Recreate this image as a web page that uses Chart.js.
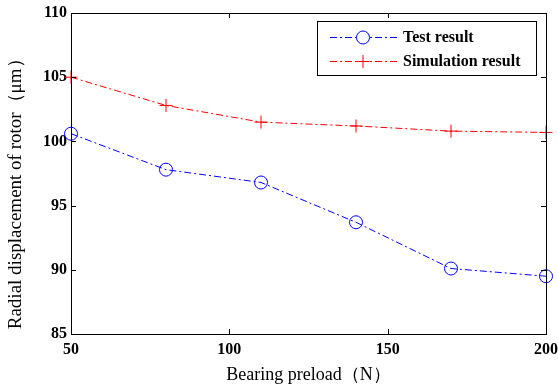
<!DOCTYPE html>
<html>
<head>
<meta charset="utf-8">
<script src="https://cdn.jsdelivr.net/npm/chart.js@4"></script>
<style>
html,body{margin:0;padding:0;background:#fff;}
#c{display:block;}
</style>
</head>
<body>
<canvas id="c" width="558" height="386"></canvas>
<script>
const preload = [50, 80, 110, 140, 170, 200];
const testResult = [100.6, 97.8, 96.8, 93.7, 90.1, 89.5];
const simResult = [105.0, 102.8, 101.5, 101.2, 100.8, 100.7];
const xTicks = [50, 100, 150, 200];
const yTicks = [85, 90, 95, 100, 105, 110];
const seriesNames = ['Test result', 'Simulation result'];

const SERIF = '"Liberation Serif","Times New Roman",serif';
const DASH = [7, 3, 2, 3];

const framePlugin = {
  id: 'frame',
  afterDraw(chart) {
    const {ctx, chartArea: a, scales} = chart;
    ctx.save();
    ctx.strokeStyle = '#000';
    ctx.lineWidth = 1;
    ctx.setLineDash([]);
    ctx.strokeRect(Math.round(a.left) + 0.5, Math.round(a.top) + 0.5,
                   Math.round(a.right - a.left), Math.round(a.bottom - a.top));
    const L = 5;
    ctx.beginPath();
    xTicks.forEach(v => {
      const x = Math.round(scales.x.getPixelForValue(v)) + 0.5;
      ctx.moveTo(x, a.bottom); ctx.lineTo(x, a.bottom - L);
      ctx.moveTo(x, a.top); ctx.lineTo(x, a.top + L);
    });
    yTicks.forEach(v => {
      const y = Math.round(scales.y.getPixelForValue(v)) + 0.5;
      ctx.moveTo(a.left, y); ctx.lineTo(a.left + L, y);
      ctx.moveTo(a.right, y); ctx.lineTo(a.right - L, y);
    });
    ctx.stroke();

    // legend
    const bx = 317.5, by = 21.5, bw = 219, bh = 54;
    ctx.fillStyle = '#fff';
    ctx.fillRect(bx, by, bw, bh);
    ctx.strokeRect(bx, by, bw, bh);
    const rows = [37, 61];
    chart.data.datasets.forEach((ds, i) => {
      const y = rows[i] + 0.5;
      ctx.save();
      ctx.strokeStyle = ds.borderColor;
      ctx.lineWidth = 1;
      ctx.setLineDash(DASH);
      ctx.beginPath();
      ctx.moveTo(330, y); ctx.lineTo(397, y);
      ctx.stroke();
      ctx.setLineDash([]);
      Chart.helpers.drawPoint(ctx, {
        pointStyle: ds.pointStyle, radius: ds.pointRadius, rotation: 0,
        borderWidth: ds.pointBorderWidth
      }, 363, y);
      ctx.restore();
      ctx.fillStyle = '#000';
      ctx.font = 'bold 16px ' + SERIF;
      ctx.textBaseline = 'middle';
      ctx.textAlign = 'left';
      ctx.fillText(seriesNames[i], 403, rows[i] + 1);
    });
    ctx.restore();
  }
};

new Chart(document.getElementById('c'), {
  type: 'line',
  data: {
    datasets: [
      {
        label: seriesNames[0],
        data: preload.map((x, i) => ({x, y: testResult[i]})),
        borderColor: '#0000ff',
        backgroundColor: 'rgba(0,0,0,0)',
        borderWidth: 1,
        borderDash: DASH,
        pointStyle: 'circle',
        pointRadius: 6.5,
        pointBorderWidth: 1,
        pointBorderColor: '#0000ff',
        pointBackgroundColor: 'rgba(0,0,0,0)',
        tension: 0,
        clip: false
      },
      {
        label: seriesNames[1],
        data: preload.map((x, i) => ({x, y: simResult[i]})),
        borderColor: '#ff0000',
        backgroundColor: 'rgba(0,0,0,0)',
        borderWidth: 1,
        borderDash: DASH,
        pointStyle: 'cross',
        pointRadius: 6.5,
        pointBorderWidth: 1,
        pointBorderColor: '#ff0000',
        pointBackgroundColor: 'rgba(0,0,0,0)',
        tension: 0,
        clip: false
      }
    ]
  },
  options: {
    responsive: false,
    animation: false,
    devicePixelRatio: 1,
    layout: {padding: {left: 0, top: 13, right: 12, bottom: 0}},
    plugins: {legend: {display: false}, tooltip: {enabled: false}},
    scales: {
      x: {
        type: 'linear',
        min: 50, max: 200,
        afterBuildTicks(s) { s.ticks = xTicks.map(v => ({value: v})); },
        afterFit(s) { s.height = 52; s.paddingLeft = 0; s.paddingRight = 0; },
        ticks: {
          color: '#000', padding: 6, maxRotation: 0,
          font: {family: SERIF, size: 16, weight: 'bold'}
        },
        grid: {display: true, drawOnChartArea: false, drawTicks: false},
        border: {display: true, color: '#000', width: 1},
        title: {
          display: true, text: 'Bearing preload（N）', color: '#000',
          font: {family: SERIF, size: 18}, padding: {top: 2, bottom: 0}
        }
      },
      y: {
        type: 'linear',
        min: 85, max: 110,
        afterBuildTicks(s) { s.ticks = yTicks.map(v => ({value: v})); },
        afterFit(s) { s.width = 71; s.paddingTop = 0; s.paddingBottom = 0; },
        ticks: {
          color: '#000', padding: 4,
          font: {family: SERIF, size: 16, weight: 'bold'}
        },
        grid: {display: true, drawOnChartArea: false, drawTicks: false},
        border: {display: true, color: '#000', width: 1},
        title: {
          display: true, text: ' Radial displacement of rotor（μm）', color: '#000',
          align: 'start',
          font: {family: SERIF, size: 19}, padding: {top: 5, bottom: 4}
        }
      }
    }
  },
  plugins: [framePlugin]
});
</script>
</body>
</html>
